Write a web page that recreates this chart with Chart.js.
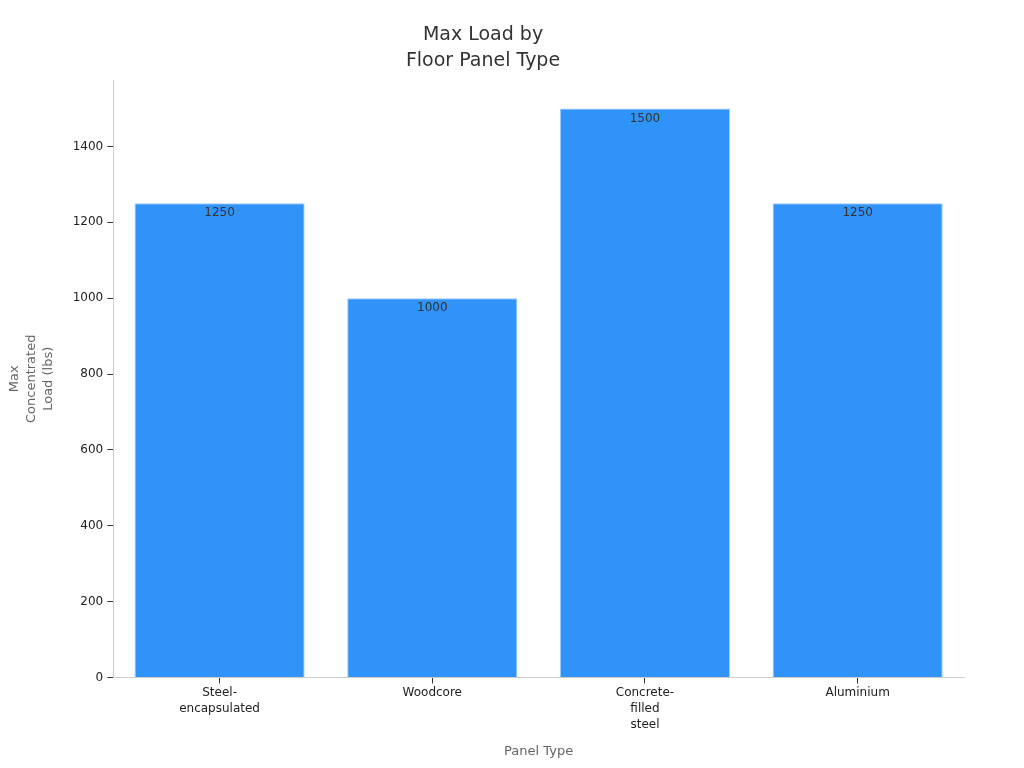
<!DOCTYPE html>
<html><head><meta charset="utf-8">
<script src="https://cdn.jsdelivr.net/npm/chart.js@4"></script>
<style>html,body{margin:0;padding:0;background:#fff}#wrap{width:1024px;height:768px}</style>
</head><body><div id="wrap"><canvas id="c"></canvas></div>
<script>
const categories = [["Steel-","encapsulated"], "Woodcore", ["Concrete-","filled","steel"], "Aluminium"];
const loads = [1250, 1000, 1500, 1250];
const yTicks = [0, 200, 400, 600, 800, 1000, 1200, 1400];

const labelPlugin = {
  id: 'barLabels',
  afterDatasetsDraw(chart) {
    const ctx = chart.ctx;
    const meta = chart.getDatasetMeta(0);
    ctx.save();
    ctx.font = '12px "DejaVu Sans"';
    ctx.fillStyle = '#333';
    ctx.textAlign = 'center';
    ctx.textBaseline = 'middle';
    meta.data.forEach((bar, i) => {
      ctx.fillText(String(loads[i]), bar.x, bar.y + 10);
    });
    ctx.restore();
  }
};

Chart.defaults.font.family = '"DejaVu Sans"';
new Chart(document.getElementById('c'), {
  type: 'bar',
  data: { labels: categories, datasets: [{ data: loads, backgroundColor: '#2F93F8', borderColor: '#9CCBFA', borderWidth: 1, categoryPercentage: 0.8, barPercentage: 1 }] },
  options: {
    responsive: true, maintainAspectRatio: false, animation: false,
    layout: { padding: { left: 2, right: 60, top: 22, bottom: 5 } },
    plugins: {
      legend: { display: false },
      tooltip: { enabled: false },
      title: { display: true, text: ['Max Load by', 'Floor Panel Type'], color: '#333', font: { size: 19, weight: 'normal', lineHeight: 1.37 }, padding: { top: 0, bottom: 6 } }
    },
    scales: {
      x: {
        grid: { display: true, drawOnChartArea: false, drawTicks: true, tickLength: 6, color: '#333', offset: false },
        border: { display: true, color: '#ccc' },
        ticks: { color: '#222', font: { size: 12, lineHeight: 1.33 }, maxRotation: 0, padding: 1 },
        title: { display: true, text: 'Panel Type', color: '#666', font: { size: 13 }, padding: { top: 10 } }
      },
      y: {
        min: 0, max: 1575,
        afterBuildTicks(axis) { axis.ticks = yTicks.map(v => ({ value: v })); },
        grid: { display: true, drawOnChartArea: false, drawTicks: true, tickLength: 6, color: '#333' },
        border: { display: true, color: '#ccc' },
        ticks: { color: '#222', font: { size: 12 }, padding: 4, callback: v => String(v) },
        title: { display: true, text: ['Max', 'Concentrated', 'Load (lbs)'], color: '#666', font: { size: 13, lineHeight: 1.3 }, padding: { bottom: 12 } }
      }
    }
  },
  plugins: [labelPlugin]
});
</script></body></html>
